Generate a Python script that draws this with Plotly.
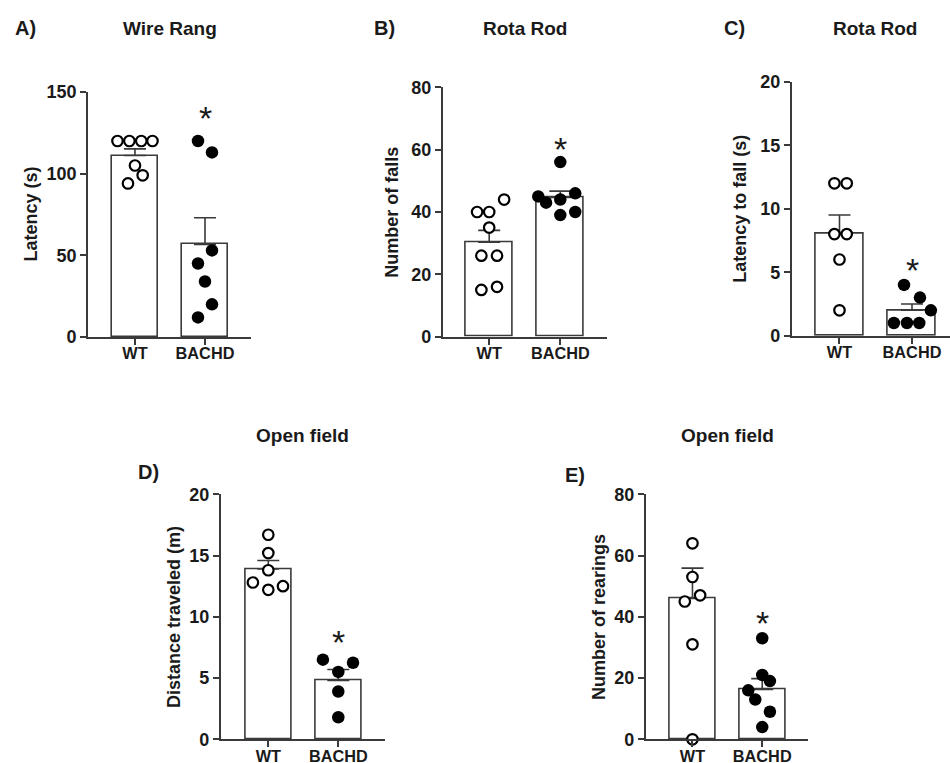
import plotly.graph_objects as go

# ---------------- data ----------------
groups = ["WT", "BACHD"]

# A) Wire Rang - Latency (s)
A_means = [111.1, 56.7]
A_sem = [4.1, 16.3]
A_wt = [120, 120, 120, 120, 105, 99, 94]
A_wt_dx = [-0.25, -0.08, 0.09, 0.25, 0.0, 0.11, -0.10]
A_bachd = [120, 113, 53, 45, 34, 20, 12]
A_bachd_dx = [-0.10, 0.10, 0.10, -0.10, 0.0, 0.10, -0.10]

# B) Rota Rod - Number of falls
B_means = [30.3, 44.7]
B_sem = [3.8, 2.0]
B_wt = [40, 40, 44, 35, 26, 26, 15, 16]
B_wt_dx = [-0.17, 0.0, 0.21, 0.0, -0.11, 0.11, -0.11, 0.11]
B_bachd = [56, 45, 43, 44, 46, 39, 40]
B_bachd_dx = [0.0, -0.31, -0.20, 0.0, 0.21, 0.0, 0.21]

# C) Rota Rod - Latency to fall (s)
C_means = [8.0, 2.0]
C_sem = [1.5, 0.5]
C_wt = [12, 12, 8, 8, 6, 2]
C_wt_dx = [-0.07, 0.10, -0.07, 0.10, 0.0, 0.0]
C_bachd = [4, 3, 2, 1, 1, 1]
C_bachd_dx = [-0.11, 0.11, 0.26, -0.25, -0.07, 0.10]

# D) Open field - Distance traveled (m)
D_means = [13.9, 4.8]
D_sem = [0.7, 0.9]
D_wt = [16.7, 15.2, 13.8, 12.8, 12.5, 12.2]
D_wt_dx = [0.0, 0.0, 0.0, -0.22, 0.21, 0.0]
D_bachd = [6.5, 6.25, 5.5, 3.9, 1.8]
D_bachd_dx = [-0.22, 0.21, 0.0, 0.0, 0.0]

# E) Open field - Number of rearings
E_means = [46.0, 16.3]
E_sem = [9.9, 3.5]
E_wt = [64, 53, 45, 47, 31, 0]
E_wt_dx = [0.0, 0.0, -0.11, 0.11, 0.0, 0.0]
E_bachd = [33, 21, 19, 16, 13, 9, 4]
E_bachd_dx = [0.0, 0.0, 0.11, -0.20, -0.10, 0.11, 0.0]

# ---------------- layout helpers ----------------
W, H = 950, 763
FONT = "Arial, Liberation Sans, sans-serif"
INK = "#1a1a1a"
LINE = "#3a3a3a"

def xd(a, b):
    return [a / W, min(b / W, 1.0)]

def yd(top, bottom):
    return [1 - bottom / H, 1 - top / H]

panels = [
    dict(letter="A)", title="Wire Rang", ylabel="Latency (s)",
         means=A_means, sem=A_sem, wt=A_wt, wtdx=A_wt_dx, ba=A_bachd, badx=A_bachd_dx,
         px=(88, 251), py=(92, 337), xr=[-0.671, 1.657], yr=[0, 150], dt=50, star=136,
         letter_xy=(25, 28), title_y=28, ylab_x=30),
    dict(letter="B)", title="Rota Rod", ylabel="Number of falls",
         means=B_means, sem=B_sem, wt=B_wt, wtdx=B_wt_dx, ba=B_bachd, badx=B_bachd_dx,
         px=(442.7, 607.3), py=(87.3, 336.7), xr=[-0.654, 1.661], yr=[0, 80], dt=20, star=61.3,
         letter_xy=(384, 28), title_y=28, ylab_x=391.7),
    dict(letter="C)", title="Rota Rod", ylabel="Latency to fall (s)",
         means=C_means, sem=C_sem, wt=C_wt, wtdx=C_wt_dx, ba=C_bachd, badx=C_bachd_dx,
         px=(791.7, 950), py=(81.7, 335.7), xr=[-0.659, 1.524], yr=[0, 20], dt=5, star=5.4,
         letter_xy=(734, 28), title_y=28, ylab_x=740, title_x=875),
    dict(letter="D)", title="Open field", ylabel="Distance traveled (m)",
         means=D_means, sem=D_sem, wt=D_wt, wtdx=D_wt_dx, ba=D_bachd, badx=D_bachd_dx,
         px=(220.7, 385), py=(494.3, 739.3), xr=[-0.68, 1.667], yr=[0, 20], dt=5, star=8.16,
         letter_xy=(148, 472), title_y=435, ylab_x=173.3),
    dict(letter="E)", title="Open field", ylabel="Number of rearings",
         means=E_means, sem=E_sem, wt=E_wt, wtdx=E_wt_dx, ba=E_bachd, badx=E_bachd_dx,
         px=(645.7, 808.3), py=(494.3, 739.3), xr=[-0.67, 1.66], yr=[0, 80], dt=20, star=39,
         letter_xy=(575, 475), title_y=435, ylab_x=598.3),
]

fig = go.Figure()
annotations = []
layout_axes = {}

for i, p in enumerate(panels, start=1):
    sfx = "" if i == 1 else str(i)
    xa, ya = "x" + sfx, "y" + sfx

    # bars with upward SEM
    fig.add_trace(go.Bar(
        x=[0, 1], y=p["means"], width=0.66, xaxis=xa, yaxis=ya,
        marker=dict(color="white", line=dict(color=LINE, width=1.6)),
        error_y=dict(type="data", array=p["sem"], arrayminus=[0, 0], symmetric=False,
                     color=LINE, thickness=1.6, width=11),
        showlegend=False, hoverinfo="skip",
    ))
    # WT open circles
    fig.add_trace(go.Scatter(
        x=[d for d in p["wtdx"]], y=p["wt"], mode="markers", xaxis=xa, yaxis=ya,
        marker=dict(symbol="circle", size=10.5, color="white", line=dict(color="black", width=2.2)),
        cliponaxis=False, showlegend=False,
    ))
    # BACHD filled circles
    fig.add_trace(go.Scatter(
        x=[1 + d for d in p["badx"]], y=p["ba"], mode="markers", xaxis=xa, yaxis=ya,
        marker=dict(symbol="circle", size=12.5, color="black", line=dict(width=0)),
        cliponaxis=False, showlegend=False,
    ))

    ticks = list(range(p["yr"][0], p["yr"][1] + 1, p["dt"]))
    layout_axes["xaxis" + sfx] = dict(
        domain=xd(*p["px"]), anchor=ya, range=p["xr"], tickvals=[0, 1], ticktext=groups,
        showline=True, linecolor=LINE, linewidth=1.6, ticks="outside", ticklen=6,
        tickwidth=1.6, tickcolor=LINE, showgrid=False, zeroline=False, fixedrange=True,
        automargin=False, ticklabelstandoff=-5,
        tickfont=dict(family=FONT, size=16.3, color=INK, weight="bold"),
    )
    layout_axes["yaxis" + sfx] = dict(
        domain=yd(*p["py"]), anchor=xa, range=p["yr"], tickvals=ticks,
        showline=True, linecolor=LINE, linewidth=1.6, ticks="outside", ticklen=6,
        tickwidth=1.6, tickcolor=LINE, showgrid=False, zeroline=False, fixedrange=True,
        automargin=False,
        tickfont=dict(family=FONT, size=18, color=INK, weight="bold"),
    )

    # significance star
    annotations.append(dict(
        x=1, y=p["star"], xref=xa, yref=ya, text="*", showarrow=False,
        xanchor="center", yanchor="middle",
        font=dict(family=FONT, size=34, color=INK), yshift=-3,
    ))
    # panel letter
    annotations.append(dict(
        x=p["letter_xy"][0] / W, y=1 - p["letter_xy"][1] / H, xref="paper", yref="paper",
        text="<b>%s</b>" % p["letter"], showarrow=False,
        xanchor="center", yanchor="middle",
        font=dict(family=FONT, size=20, color=INK),
    ))
    # panel title
    tx = p.get("title_x", (p["px"][0] + p["px"][1]) / 2)
    annotations.append(dict(
        x=tx / W, y=1 - p["title_y"] / H, xref="paper", yref="paper",
        text="<b>%s</b>" % p["title"], showarrow=False,
        xanchor="center", yanchor="middle",
        font=dict(family=FONT, size=19, color=INK),
    ))
    # y-axis label
    annotations.append(dict(
        x=p["ylab_x"] / W, y=1 - (p["py"][0] + p["py"][1]) / 2 / H, xref="paper", yref="paper",
        text="<b>%s</b>" % p["ylabel"], showarrow=False, textangle=-90,
        xanchor="center", yanchor="middle",
        font=dict(family=FONT, size=18, color=INK),
    ))

fig.update_layout(
    width=W, height=H, margin=dict(l=0, r=0, t=0, b=0, autoexpand=False),
    paper_bgcolor="white", plot_bgcolor="white",
    annotations=annotations, bargap=0, **layout_axes,
)

fig.write_html(
    "out.html",
    config={"displayModeBar": False},
    post_script="document.body.style.margin='0';document.body.style.overflow='hidden';",
)
